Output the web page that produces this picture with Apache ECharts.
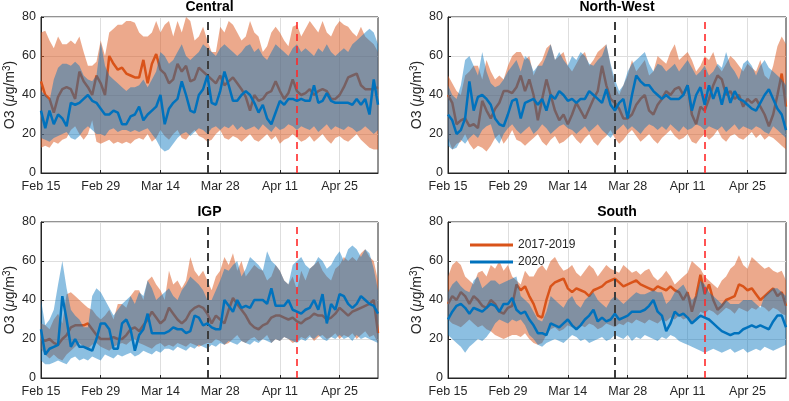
<!DOCTYPE html>
<html><head><meta charset="utf-8">
<script src="https://cdn.jsdelivr.net/npm/echarts@6/dist/echarts.min.js"></script>
<style>html,body{margin:0;padding:0;background:#fff}#c{width:789px;height:401px}</style>
</head><body><div id="c"></div>
<script>
// ---------- data ----------
const tickLabels = ['Feb 15','Feb 29','Mar 14','Mar 28','Apr 11','Apr 25'];
const panelTitles = ['Central','North-West','IGP','South'];
const seriesNames = ['2017-2019','2020'];
const firstDay = '2020-02-15';
const dayCount = 80;
const lockdownDate = 'Mar 25';
const relaxDate = 'Apr 15';

// Central
const centralBaseMean = [47,40,38,31,39,43,44,43,38,52, 47,44,40,50,46,40,60,56,53,54, 51,50,49,49,58,46,56,61,53,51, 46,48,56,52,55,47,48,54,52,50, 48,46,50,45,47,49,46,43,39,32, 40,37,38,41,42,47,42,38,41,48, 42,40,41,43,40,42,43,42,38,38, 40,44,49,50,51,45,43,43,43,44];
const centralBaseLow  = [13,14,13,16,15,17,18,22,24,20, 17,20,27,16,15,16,17,15,16,15, 16,15,17,18,17,20,16,18,22,19, 17,20,22,18,17,20,22,19,18,16, 17,20,22,18,17,19,18,16,18,20, 17,16,18,20,17,19,15,17,18,20, 18,16,17,19,16,18,20,17,15,18, 19,17,16,18,20,17,15,13,12,12];
const centralBaseHigh = [72,73,68,64,70,66,66,68,66,70, 62,55,55,57,68,60,72,74,76,76, 78,78,77,72,70,70,72,78,72,76, 78,70,78,72,80,78,68,70,75,68, 62,62,75,72,78,76,72,68,70,78, 72,70,62,65,72,75,72,68,65,75, 76,70,74,78,75,72,78,72,70,75, 78,76,75,72,70,75,70,68,66,62];
const central2020Mean = [32,23,32,25,30,28,24,36,35,36, 38,40,37,36,33,30,30,32,31,25, 25,29,30,34,27,30,32,34,40,25, 33,36,38,47,40,32,31,40,43,50, 36,35,42,52,45,37,37,40,42,40, 36,31,35,28,25,31,37,35,38,38, 37,38,37,37,45,36,37,41,37,36, 36,36,36,35,38,35,38,30,48,35];
const central2020Low  = [18,17,16,18,19,20,21,18,17,19, 22,24,22,20,20,19,22,23,21,22, 22,21,22,21,22,23,20,17,13,11, 12,15,18,20,21,19,21,23,22,20, 23,24,22,24,23,25,22,24,22,23, 24,22,25,23,21,24,22,23,25,24, 22,24,23,22,24,21,23,25,22,24, 23,22,24,23,21,22,24,22,20,22];
const central2020High = [42,40,37,48,54,56,56,55,57,55, 50,48,47,50,67,55,50,48,46,44, 42,44,44,45,48,44,48,52,62,60, 56,58,62,66,60,58,60,62,66,64, 62,60,64,66,64,62,60,62,65,66, 62,64,60,58,62,66,64,62,60,64, 66,62,64,62,60,64,62,66,62,60, 62,64,62,66,68,70,72,74,72,66];

// North-West
const northWestBaseMean = [40,36,25,27,28,24,25,23,37,32, 28,33,36,42,42,41,44,50,42,48, 40,27,38,48,40,32,27,30,25,30, 36,32,28,33,38,42,55,45,38,36, 33,28,28,30,35,38,40,32,30,35, 38,42,40,43,44,40,45,30,25,34, 32,38,45,50,48,40,42,38,40,34, 38,36,38,34,30,24,30,40,51,34];
const northWestBaseLow  = [18,12,15,16,20,15,12,14,13,11, 14,18,20,15,18,22,17,16,14,16, 18,20,16,14,17,19,15,16,18,20, 17,15,18,20,16,14,17,19,22,18, 15,17,20,22,19,16,18,20,17,15, 18,20,22,19,17,18,20,16,15,18, 20,17,19,22,18,16,19,20,18,17, 19,21,18,20,17,19,18,16,14,12];
const northWestBaseHigh = [50,46,42,40,50,52,55,55,48,58, 52,48,50,48,55,60,62,62,58,60, 50,55,58,64,66,58,60,62,55,52, 56,60,62,55,58,62,64,66,55,45, 40,45,50,58,52,55,58,50,52,60, 58,56,62,66,58,60,62,58,52,55, 60,58,62,55,52,56,60,58,55,52, 56,54,52,58,50,48,55,65,70,66];
const northWest2020Mean = [30,27,20,22,28,47,32,39,40,38, 35,28,25,24,30,37,38,28,36,37, 38,35,38,32,40,38,42,40,37,38, 36,38,38,42,40,38,36,43,35,32, 36,38,28,40,50,47,45,45,42,40, 38,40,38,38,38,40,45,32,40,44, 35,45,38,44,35,44,36,42,38,37, 35,33,32,36,40,43,38,33,30,22];
const northWest2020Low  = [14,12,13,17,15,18,20,18,22,24, 25,18,15,20,23,25,22,20,22,24, 20,22,25,23,20,22,24,25,23,22, 20,22,24,21,23,25,22,20,18,21, 23,25,22,24,22,20,23,25,24,22, 24,22,25,23,21,24,22,23,25,24, 22,24,23,22,24,21,23,25,22,24, 23,22,24,23,21,20,24,22,20,18];
const northWest2020High = [45,40,38,45,58,60,55,50,62,52, 46,44,45,48,52,55,58,52,60,58, 52,55,55,60,66,58,62,58,55,60, 58,62,60,56,55,58,60,66,56,48, 42,45,52,56,58,60,62,56,52,56, 55,52,54,56,52,55,58,54,50,52, 55,50,52,56,54,62,55,52,48,56, 58,55,50,55,58,54,52,50,48,45];

// IGP
const igpBaseMean = [20,19,20,18,17,20,22,26,27,27, 27,28,25,22,20,20,20,21,20,20, 22,25,26,24,27,30,34,31,28,30, 36,33,30,28,30,34,36,37,36,33, 28,32,30,28,35,41,38,35,32,28, 26,25,27,28,31,32,32,31,30,31, 29,28,30,31,33,32,32,30,31,33, 36,34,32,34,35,36,37,38,40,23];
const igpBaseLow  = [15,12,10,12,10,9,12,14,16,18, 16,15,17,18,16,15,14,16,17,18, 17,19,20,18,17,16,15,17,18,16, 17,16,18,17,16,18,17,16,17,18, 18,20,19,17,18,20,22,19,18,20, 21,19,20,22,18,20,19,21,20,18, 19,21,20,22,19,21,22,20,21,23, 20,22,21,23,20,22,24,21,22,18];
const igpBaseHigh = [28,27,25,30,33,28,43,44,42,40, 38,36,35,32,30,32,35,30,38,38, 36,42,45,45,40,50,52,48,45,40, 55,48,50,46,50,62,55,52,55,50, 45,52,55,62,58,64,55,60,52,55, 58,56,55,50,52,58,55,50,48,52, 45,55,50,56,58,60,55,52,50,56, 58,62,60,62,60,64,66,62,60,50];
const igp2020Mean = [25,12,15,16,17,42,30,16,20,16, 16,15,14,20,28,28,25,15,15,28, 30,25,14,22,25,33,23,23,23,23, 24,26,25,25,23,24,32,31,27,28, 26,25,25,40,37,34,40,36,37,36, 40,40,40,38,46,37,37,37,40,35, 34,33,35,36,40,35,43,28,38,35, 43,42,38,36,38,42,40,38,37,33];
const igp2020Low  = [9,7,7,8,9,8,7,10,11,9, 10,9,11,10,9,12,11,10,12,11, 12,13,11,12,14,13,12,14,13,15, 15,14,16,15,14,16,15,17,16,15, 17,16,18,17,19,18,17,19,18,17, 19,18,20,19,18,20,19,21,20,19, 18,20,19,21,20,22,20,19,21,20, 22,20,21,19,22,20,21,20,19,18];
const igp2020High = [40,27,30,35,48,60,46,35,32,30, 26,26,42,46,44,40,36,32,35,38, 40,42,38,44,42,50,46,40,42,44, 46,42,40,45,48,52,50,48,45,40, 40,45,50,56,55,58,60,52,56,62, 60,58,55,65,60,58,55,50,48,58, 60,62,58,56,58,62,60,56,58,62, 65,60,66,68,66,62,66,64,56,45];

// South
const southBaseMean = [38,42,40,44,42,38,42,40,37,36, 40,38,34,33,36,37,48,45,47,42, 38,32,31,40,47,49,50,51,46,44, 46,45,44,42,45,46,47,49,50,51, 49,47,48,49,50,48,47,46,45,47, 46,45,47,45,44,40,44,34,42,53, 43,48,40,35,37,40,41,42,48,47, 45,46,43,40,42,44,46,42,44,37];
const southBaseLow  = [30,28,27,26,28,30,28,26,27,25, 24,22,21,20,21,22,22,21,23,20, 18,17,18,22,25,26,24,25,27,26, 25,27,26,28,27,25,26,28,27,26, 28,27,29,28,30,29,28,30,29,28, 30,29,31,30,32,30,31,28,30,34, 33,35,34,32,34,36,35,33,36,35, 34,36,35,37,36,34,36,35,33,32];
const southBaseHigh = [52,58,60,58,52,50,48,54,55,52, 58,56,60,55,58,52,50,48,55,52, 52,56,58,55,60,62,58,55,56,58, 54,52,55,58,56,52,55,58,56,55, 54,58,56,54,55,53,55,56,52,50, 52,55,52,48,50,52,54,60,58,56, 52,50,48,46,50,52,56,58,63,58, 56,62,60,58,56,57,55,54,55,50];
const south2020Mean = [30,34,37,38,36,33,36,35,34,36, 38,37,34,38,38,41,35,33,34,30, 27,23,23,22,28,27,26,28,30,27, 25,27,30,32,35,29,31,29,30,33, 30,31,32,34,34,34,35,37,40,34, 32,24,28,34,32,33,31,28,30,32, 31,30,28,26,24,23,22,23,23,25, 26,27,26,27,26,25,29,32,32,26];
const south2020Low  = [22,20,18,16,13,16,18,20,19,21, 24,28,30,29,28,30,29,30,27,22, 20,17,16,18,19,20,19,18,20,22, 21,19,20,18,19,20,21,19,20,22, 21,20,22,19,21,20,22,21,20,19, 21,20,22,21,19,18,17,16,15,14, 13,14,15,14,13,14,15,13,14,15, 13,14,15,14,16,15,14,15,16,17];
const south2020High = [44,48,50,47,45,44,50,52,46,48, 50,50,48,49,50,51,52,42,40,38, 34,30,29,34,42,40,38,36,40,42, 38,36,40,42,44,40,38,36,40,42, 40,38,40,42,44,43,43,44,45,44, 44,38,40,44,46,48,44,40,42,50, 48,44,42,40,38,40,38,38,38,40, 40,40,38,36,42,44,46,46,44,42];

// ---------- categories (calendar days) ----------
const MONTHS = ['Jan','Feb','Mar','Apr','May','Jun'];
const dayLabels = [];
for (let i = 0; i < dayCount; i++) {
  const d = new Date(firstDay + 'T00:00:00Z');
  d.setUTCDate(d.getUTCDate() + i);
  dayLabels.push(MONTHS[d.getUTCMonth()] + ' ' + d.getUTCDate());
}

// ---------- layout / style ----------
const ORANGE = '#D95319', BLUE = '#0072BD', INK = '#262626';
const FONT = '"Liberation Sans", Arial, Helvetica, sans-serif';
const gridPos = [
  {left:41, top:17, width:337, height:156},
  {left:448, top:17, width:338, height:156},
  {left:41, top:222, width:337, height:156},
  {left:448, top:222, width:338, height:156}
];
const panels = [
  {bm:centralBaseMean, bl:centralBaseLow, bh:centralBaseHigh, nm:central2020Mean, nl:central2020Low, nh:central2020High},
  {bm:northWestBaseMean, bl:northWestBaseLow, bh:northWestBaseHigh, nm:northWest2020Mean, nl:northWest2020Low, nh:northWest2020High},
  {bm:igpBaseMean, bl:igpBaseLow, bh:igpBaseHigh, nm:igp2020Mean, nl:igp2020Low, nh:igp2020High},
  {bm:southBaseMean, bl:southBaseLow, bh:southBaseHigh, nm:south2020Mean, nl:south2020Low, nh:south2020High}
];
const diffs = (hi, lo) => hi.map((v,i) => v - lo[i]);
const isTick = (idx, val) => tickLabels.indexOf(val) >= 0;

const grids = [], xAxes = [], yAxes = [], titles = [], series = [];
panels.forEach((p, k) => {
  const g = gridPos[k];
  grids.push(Object.assign({show:true, borderColor:INK, borderWidth:1, backgroundColor:'transparent', containLabel:false}, g));
  titles.push({text: panelTitles[k], left: g.left + g.width/2, top: k < 2 ? 0 : 205, textAlign:'center', padding:0,
    textStyle:{fontSize:14, fontWeight:'bold', color:'#000', fontFamily:FONT}});
  xAxes.push({gridIndex:k, type:'category', data:dayLabels, boundaryGap:false,
    axisLine:{show:true, lineStyle:{color:INK, width:1}},
    axisTick:{show:true, inside:true, length:3, interval:isTick, lineStyle:{color:INK}},
    axisLabel:{color:INK, fontSize:12.5, fontFamily:FONT, margin:7, interval:isTick},
    splitLine:{show:true, interval:isTick, lineStyle:{color:'#dedede', width:1}}});
  yAxes.push({gridIndex:k, type:'value', min:0, max:80, interval:20,
    name:'O3 ({i|μ}g/m{s|3})', nameLocation:'middle', nameGap:22,
    nameTextStyle:{color:INK, fontSize:14, fontFamily:FONT,
      rich:{i:{fontStyle:'italic', fontSize:14, color:INK, fontFamily:FONT},
            s:{fontSize:10, color:INK, fontFamily:FONT, verticalAlign:'bottom', padding:[0,0,7,0]}}},
    axisLine:{show:true, lineStyle:{color:INK, width:1}},
    axisTick:{show:true, inside:true, length:3, lineStyle:{color:INK}},
    axisLabel:{color:INK, fontSize:12.5, fontFamily:FONT, margin:5},
    splitLine:{show:true, lineStyle:{color:'#dedede', width:1}}});
  const common = {type:'line', xAxisIndex:k, yAxisIndex:k, symbol:'none', showSymbol:false, silent:true, animation:false};
  // baseline band
  series.push(Object.assign({}, common, {name:'base-low-'+k, z:2, data:p.bl, stack:'o'+k, lineStyle:{width:0, opacity:0}}));
  series.push(Object.assign({}, common, {name:'base-band-'+k, z:2, data:diffs(p.bh, p.bl), stack:'o'+k, lineStyle:{width:0, opacity:0},
    areaStyle:{color:ORANGE, opacity:0.5}}));
  series.push(Object.assign({}, common, {name:seriesNames[0], z:3, data:p.bm, lineStyle:{color:ORANGE, width:2.5}, itemStyle:{color:ORANGE}}));
  // 2020 band
  series.push(Object.assign({}, common, {name:'y2020-low-'+k, z:4, data:p.nl, stack:'b'+k, lineStyle:{width:0, opacity:0}}));
  series.push(Object.assign({}, common, {name:'y2020-band-'+k, z:4, data:diffs(p.nh, p.nl), stack:'b'+k, lineStyle:{width:0, opacity:0},
    areaStyle:{color:BLUE, opacity:0.45}}));
  series.push(Object.assign({}, common, {name:seriesNames[1], z:5, data:p.nm, lineStyle:{color:BLUE, width:2.5}, itemStyle:{color:BLUE},
    markLine:{symbol:'none', silent:true, animation:false, label:{show:false},
      data:[{xAxis:lockdownDate, lineStyle:{color:'#3c3c3c', type:[8,5], width:2}},
            {xAxis:relaxDate, lineStyle:{color:'#ff2a2a', type:[7,5], width:1.6}}]}}));
});

const chart = echarts.init(document.getElementById('c'), null, {renderer:'canvas'});
chart.setOption({
  animation:false,
  backgroundColor:'#fff',
  title:titles,
  grid:grids, xAxis:xAxes, yAxis:yAxes,
  legend:{data:seriesNames, orient:'vertical', left:465, top:233, icon:'rect', itemWidth:43, itemHeight:3, itemGap:3,
    selectedMode:false, textStyle:{fontSize:12, color:INK, fontFamily:FONT, lineHeight:14}},
  series:series
});
</script></body></html>
